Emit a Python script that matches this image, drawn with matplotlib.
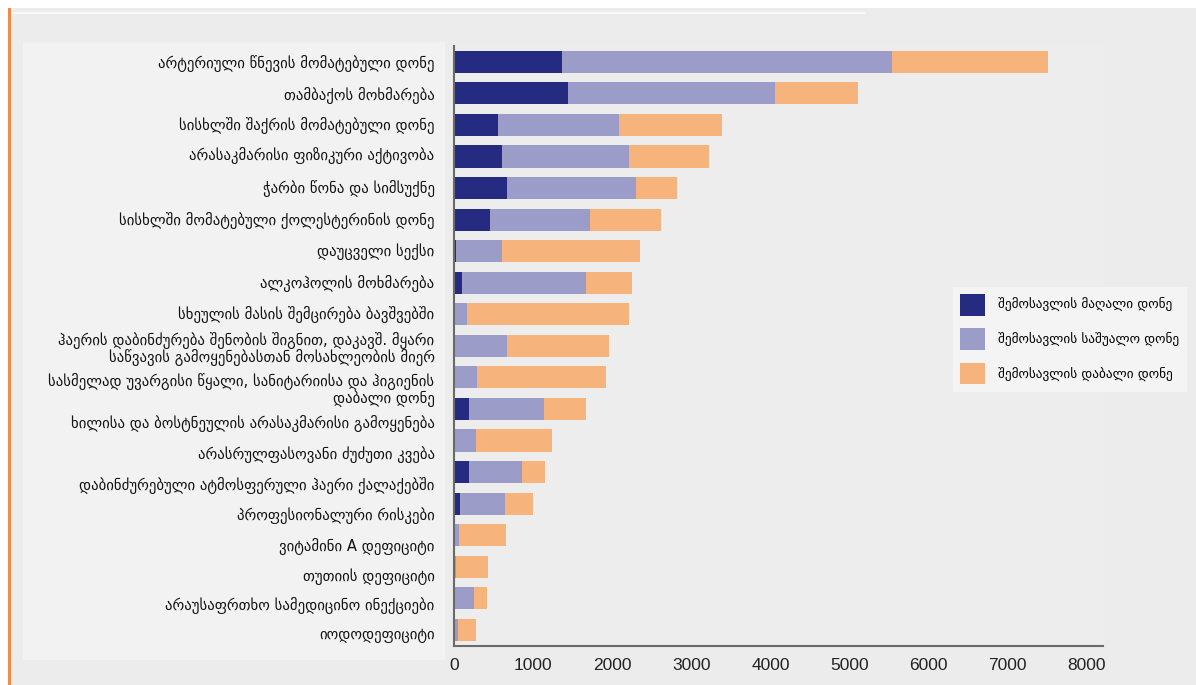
import matplotlib
matplotlib.use("Agg")
import matplotlib.pyplot as plt
from matplotlib.patches import Rectangle
import numpy as np

# Risk factors (top to bottom)
categories = [
    "არტერიული წნევის მომატებული დონე",
    "თამბაქოს მოხმარება",
    "სისხლში შაქრის მომატებული დონე",
    "არასაკმარისი ფიზიკური აქტივობა",
    "ჭარბი წონა და სიმსუქნე",
    "სისხლში მომატებული ქოლესტერინის დონე",
    "დაუცველი სექსი",
    "ალკოჰოლის მოხმარება",
    "სხეულის მასის შემცირება ბავშვებში",
    "ჰაერის დაბინძურება შენობის შიგნით, დაკავშ. მყარი\nსაწვავის გამოყენებასთან მოსახლეობის მიერ",
    "სასმელად უვარგისი წყალი, სანიტარიისა და ჰიგიენის\nდაბალი დონე",
    "ხილისა და ბოსტნეულის არასაკმარისი გამოყენება",
    "არასრულფასოვანი ძუძუთი კვება",
    "დაბინძურებული ატმოსფერული ჰაერი ქალაქებში",
    "პროფესიონალური რისკები",
    "ვიტამინი A დეფიციტი",
    "თუთიის დეფიციტი",
    "არაუსაფრთხო სამედიცინო ინექციები",
    "იოდოდეფიციტი",
]

# Values by income group
high_income = [1365, 1444, 551, 612, 674, 453, 20, 106, 0, 0, 0, 185, 0, 185, 76, 0, 0, 0, 0]
middle_income = [4175, 2620, 1532, 1600, 1626, 1264, 587, 1564, 163, 674, 292, 954, 272, 675, 567, 66, 24, 247, 46]
low_income = [1969, 1049, 1300, 1012, 521, 897, 1750, 583, 2054, 1286, 1626, 531, 969, 289, 352, 593, 403, 164, 226]

series_labels = [
    "შემოსავლის მაღალი დონე",
    "შემოსავლის საშუალო დონე",
    "შემოსავლის დაბალი დონე",
]
x_ticks = [0, 1000, 2000, 3000, 4000, 5000, 6000, 7000, 8000]

colors = ["#252b80", "#9b9dc8", "#f6b37c"]

W, H = 1196, 685
fig = plt.figure(figsize=(W / 100, H / 100), dpi=100)
fig.patch.set_facecolor("white")


def px_rect(x0, y0, x1, y1, color, z=0):
    fig.add_artist(Rectangle((x0 / W, 1 - y1 / H), (x1 - x0) / W, (y1 - y0) / H,
                             transform=fig.transFigure, facecolor=color,
                             edgecolor="none", zorder=z))


# page background, decorative lines and label panel
px_rect(11, 8, W, H, "#ececec", z=-10)
px_rect(8, 8, 11, H, "#f08a4b", z=-9)
px_rect(11, 12, 865, 14, "#f8f8f8", z=-9)
px_rect(23, 42, 445, 660, "#f2f2f2", z=-9)

ax = fig.add_axes([454 / W, 1 - 645.7 / H, (1103 - 454) / W, (645.7 - 46) / H])
ax.set_facecolor("#ededed")

y = np.arange(len(categories))
left = np.zeros(len(categories))
for vals, col, lab in zip([high_income, middle_income, low_income], colors, series_labels):
    ax.barh(y, vals, left=left, height=0.70, color=col, label=lab, zorder=2)
    left = left + np.array(vals)

ax.set_ylim(len(categories) - 0.5, -0.5)
ax.set_xlim(0, 8205)

# the lower labels run on a slightly tighter pitch than the bars
label_shift = np.array([0.0, 0.0, -0.05, -0.1, -0.05, -0.05, -0.05, -0.05, -0.05,
                        0.03, 0.33, 0.41, 0.39, 0.37, 0.32, 0.30, 0.25, 0.17, 0.10])
ax.set_yticks(y + label_shift)
ax.set_yticklabels(categories, fontsize=10.6, color="#111111",
                   family=["DejaVu Sans"], linespacing=1.05)
ax.set_xticks(x_ticks)
ax.set_xticklabels([str(t) for t in x_ticks], fontsize=12.5, color="#222222",
                   family=["Liberation Sans Narrow", "Liberation Sans", "DejaVu Sans"])
ax.tick_params(axis="y", length=0, pad=14)
ax.tick_params(axis="x", length=0, pad=9)

for s in ["top", "right"]:
    ax.spines[s].set_visible(False)
for s in ["left", "bottom"]:
    ax.spines[s].set_color("#6a6a6a")
    ax.spines[s].set_linewidth(1.5)

leg = ax.legend(loc="upper left", bbox_to_anchor=(946 / W, 1 - 280 / H),
                bbox_transform=fig.transFigure, frameon=True,
                handlelength=1.9, handleheight=2.15, labelspacing=0.97,
                handletextpad=1.0, borderpad=0.55, fancybox=False,
                prop={"family": ["DejaVu Sans"], "size": 9.5})
leg.get_frame().set_facecolor("#f4f4f4")
leg.get_frame().set_edgecolor("none")
leg.get_frame().set_alpha(1)

fig.savefig("out.png", dpi=100, facecolor=fig.get_facecolor())
